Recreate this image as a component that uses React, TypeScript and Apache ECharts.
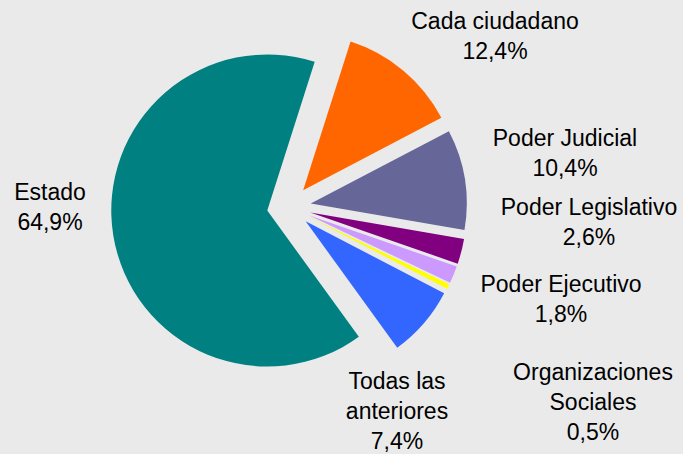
import React, { useEffect, useRef } from "react";
import * as echarts from "echarts";

const categories = [
  "Cada ciudadano",
  "Poder Judicial",
  "Poder Legislativo",
  "Poder Ejecutivo",
  "Organizaciones\nSociales",
  "Todas las\nanteriores",
  "Estado",
];
const values = [12.4, 10.4, 2.6, 1.8, 0.5, 7.4, 64.9];
const colors = ["#FF6600", "#666699", "#800080", "#CC99FF", "#FFFF00", "#3366FF", "#008080"];

// label anchor points (centre of text block)
const LABEL_POS: [number, number][] = [
  [495, 36],
  [565, 153],
  [589, 222],
  [561, 299],
  [593, 402],
  [397, 411],
  [50, 207],
];

const fmt = (v: number) => `${v.toFixed(1).replace(".", ",")}%`;

export default function App() {
  const ref = useRef<HTMLDivElement>(null);
  useEffect(() => {
    if (!ref.current) return;
    const chart = echarts.init(ref.current, null, { renderer: "svg" });
    chart.setOption({
      animation: false,
      backgroundColor: "#EAEAEA",
      graphic: categories.map((c, i) => ({
        type: "text",
        x: LABEL_POS[i][0],
        y: LABEL_POS[i][1],
        silent: true,
        style: {
          text: `${c}\n${fmt(values[i])}`,
          fill: "#000",
          font: "23px 'Liberation Sans', Arial, sans-serif",
          lineHeight: 30,
          align: "center",
          verticalAlign: "middle",
        },
      })),
      series: [
        {
          type: "pie",
          center: [289, 207],
          radius: [0, 156],
          startAngle: 72.3,
          clockwise: true,
          selectedMode: "multiple",
          selectedOffset: 22,
          avoidLabelOverlap: false,
          emphasis: { disabled: true },
          itemStyle: { borderWidth: 0 },
          labelLine: { show: false },
          label: { show: false },
          data: categories.map((c, i) => ({
            name: c,
            value: values[i],
            selected: true,
            itemStyle: { color: colors[i] },
          })),
        },
      ],
    });
    return () => chart.dispose();
  }, []);
  return (
    <div
      ref={ref}
      style={{ position: "absolute", left: 0, top: 0, width: 683, height: 454 }}
    />
  );
}
